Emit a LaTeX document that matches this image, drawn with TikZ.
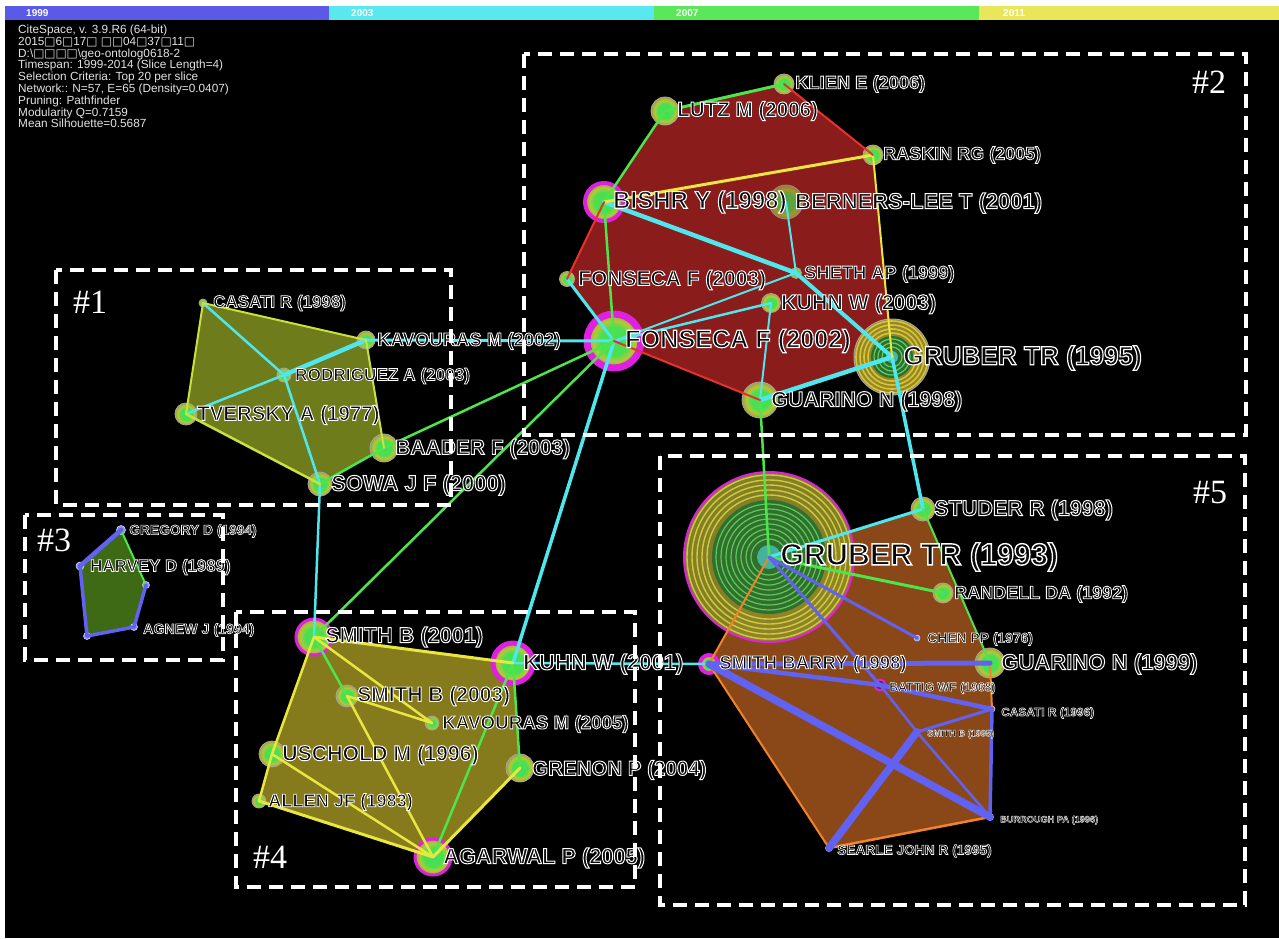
\documentclass[tikz,border=0pt]{standalone}
\usepackage{fontspec}
\setmainfont{Liberation Sans}
\newfontfamily\numserif{Liberation Serif}
\newfontfamily\djv{DejaVu Sans}
\definecolor{cy}{HTML}{4FE6EE}
\definecolor{gr}{HTML}{4CE64C}
\definecolor{ye}{HTML}{EAE640}
\definecolor{yg}{HTML}{C8E040}
\definecolor{rd}{HTML}{E8302C}
\definecolor{orr}{HTML}{F2822C}
\definecolor{bl}{HTML}{6262F2}
\definecolor{mg}{HTML}{E020E0}
\definecolor{fa}{HTML}{6E7C1C}
\definecolor{fb}{HTML}{8A1C1C}
\definecolor{fc}{HTML}{3E6A16}
\definecolor{fd}{HTML}{857A1C}
\definecolor{fe}{HTML}{8A4818}
\definecolor{lav}{HTML}{8C8CF4}
\definecolor{hdr}{HTML}{E2E2E2}
\definecolor{barb}{HTML}{5A5AE6}
\definecolor{barc}{HTML}{5AE8F0}
\definecolor{barg}{HTML}{5AE85A}
\definecolor{bary}{HTML}{EAE65A}
\definecolor{nc}{HTML}{38C8B0}
\definecolor{ng}{HTML}{48E050}
\definecolor{ny}{HTML}{B4C83A}
\definecolor{no}{HTML}{A0A040}
\definecolor{gol}{HTML}{8E8A2A}
\definecolor{gdk}{HTML}{2B6E2E}
\definecolor{grl}{HTML}{D8D040}
\definecolor{gln}{HTML}{60D060}
\definecolor{ink}{HTML}{0A0A0C}
\pgfdeclareradialshading{cnshade}{\pgfpoint{0bp}{0bp}}{color(0bp)=(nc); color(5bp)=(ng); color(13bp)=(ng); color(19bp)=(ny); color(25bp)=(no); color(50bp)=(no)}
\pgfdeclarelayer{bgl}
\pgfdeclarelayer{polyl}
\pgfdeclarelayer{labl}
\pgfdeclarelayer{boxl}
\pgfsetlayers{bgl,polyl,main,labl,boxl}
% label: one text object, dark fill with a thin white stroke (outlined text)
\newcommand\clabel[5]{%
 \begin{pgfonlayer}{labl}\node[lbl, text=ink] (l#1) at (#2,#3) {\fontsize{#4}{#4}\selectfont\pgfmathsetmacro\hw{#4*0.045}%
 \special{pdf:literal direct 1 G 2 Tr \hw\space w}#5\special{pdf:literal direct 0 Tr 0.4 w}};\end{pgfonlayer}}
\tikzset{
 cn/.style={circle, inner sep=0pt, minimum size=#1, shading=cnshade, draw=gray!70, line width=0.8pt},
 mgr/.style={draw=mg, line width=#1},
 sn/.style={circle, inner sep=0pt, minimum size=#1, fill=lav, draw=white!60!lav, line width=0.6pt},
 lbl/.style={anchor=west, inner sep=0pt, font=\bfseries},
 hline/.style={anchor=base west, inner sep=0pt, text=hdr, font=\fontsize{11.8}{11.8}\selectfont},
 barlab/.style={anchor=west, inner sep=0pt, text=white, font=\bfseries\fontsize{10}{10}\selectfont},
 ecy/.style={draw=cy, line width=#1},
 egr/.style={draw=gr, line width=#1},
 eye/.style={draw=ye, line width=#1},
 eyg/.style={draw=yg, line width=#1},
 erd/.style={draw=rd, line width=#1},
 eor/.style={draw=orr, line width=#1},
 ebl/.style={draw=bl, line width=#1},
 dbox/.style={draw=white, line width=3.2pt, dash pattern=on 14pt off 8pt},
 blab/.style={text=white, inner sep=0pt, font=\numserif\fontsize{34}{34}\selectfont},
}
\begin{document}
\begin{tikzpicture}[x=1pt,y=-1pt, line join=round, line cap=round]
\useasboundingbox (0,0) rectangle (1279,938);
\begin{pgfonlayer}{bgl}
\fill[white] (0,0) rectangle (1279,938);
\fill[black] (5,6) rectangle (1279,938);
\fill[barb] (5,6) rectangle (329,20);
\fill[barc] (329,6) rectangle (654,20);
\fill[barg] (654,6) rectangle (979,20);
\fill[bary] (979,6) rectangle (1279,20);
\end{pgfonlayer}
\node[barlab] (t1999) at (26,13) {1999};
\node[barlab] (t2003) at (351,13) {2003};
\node[barlab] (t2007) at (676,13) {2007};
\node[barlab] (t2011) at (1003,13) {2011};
% header
\node[hline] (h1) at (18,33.5) {CiteSpace, v. 3.9.R6 (64-bit)};
\node[hline] (h2) at (18,45.3) {2015{\djv □}6{\djv □}17{\djv □} {\djv □□}04{\djv □}37{\djv □}11{\djv □}};
\node[hline] (h3) at (18,57.1) {D:\textbackslash{\djv □□□□}\textbackslash geo-ontolog0618-2};
\node[hline] (h4) at (18,68.9) {Timespan: 1999-2014 (Slice Length=4)};
\node[hline] (h5) at (18,80.7) {Selection Criteria: Top 20 per slice};
\node[hline] (h6) at (18,92.5) {Network:: N=57, E=65 (Density=0.0407)};
\node[hline] (h7) at (18,104.3) {Pruning: Pathfinder};
\node[hline] (h8) at (18,116.1) {Modularity Q=0.7159};
\node[hline] (h9) at (18,127.9) {Mean Silhouette=0.5687};

% ---------- big circles ----------
\node[circle, inner sep=0pt, minimum size=170] (gruber93) at (769,557) {};
\begin{scope}[opacity=0.92]
\fill[gol] (gruber93.center) circle (85);
\foreach \r in {82,77,72,67,62} \draw[grl, line width=1.4] (gruber93.center) circle (\r);
\fill[gdk] (gruber93.center) circle (57);
\foreach \r in {53,48,43,38,33,28,23,18} \draw[gln, line width=1.2] (gruber93.center) circle (\r);
\fill[nc!80!gray] (gruber93.center) circle (12);
\end{scope}
\draw[mg, line width=2] (gruber93.center) circle (85);

\node[circle, inner sep=0pt, minimum size=76] (gruber95) at (892,357) {};
\fill[gol] (gruber95.center) circle (38);
\foreach \r in {36,32,28,24} \draw[grl!80!orange, line width=1.6] (gruber95.center) circle (\r);
\fill[gdk] (gruber95.center) circle (21);
\foreach \r in {18,14,10} \draw[gln, line width=1.2] (gruber95.center) circle (\r);
\fill[nc!80!gray] (gruber95.center) circle (6);
\draw[gray!70, line width=1] (gruber95.center) circle (38);

% ---------- nodes #2 ----------
\node[cn=20] (klien) at (784,84) {};
\node[cn=28] (lutz) at (665,111) {};
\node[cn=20] (raskin) at (873,155) {};
\node[cn=38, mgr=4] (bishr) at (604,202) {};
\node[cn=34, opacity=0.7] (berners) at (786,202) {};
\node[cn=15] (fons03) at (567,279) {};
\node[cn=11] (sheth) at (796,273) {};
\node[cn=19] (kuhn03) at (771,303) {};
\node[cn=54, mgr=7] (fons02) at (614,341) {};
\node[cn=36] (guar98) at (760,400) {};
% ---------- nodes #1 ----------
\node[cn=8] (casati98) at (203,303) {};
\node[cn=18] (kav02) at (366,340) {};
\node[cn=14] (rodr) at (284,375) {};
\node[cn=22] (tversky) at (186,414) {};
\node[cn=28] (baader) at (384,448) {};
\node[cn=24] (sowa) at (320,484) {};
% ---------- nodes #3 ----------
\node[sn=9] (gregory) at (121,530) {};
\node[sn=8] (harvey) at (80,566) {};
\node[sn=7] (c3r) at (146,585) {};
\node[sn=7] (agnew) at (134,627) {};
\node[sn=7] (c3bl) at (87,636) {};
% ---------- nodes #4 ----------
\node[cn=36, mgr=3] (smith01) at (314,637) {};
\node[cn=40, mgr=5] (kuhn01) at (513,663) {};
\node[cn=22] (smith03) at (347,696) {};
\node[cn=14] (kav05) at (432,723) {};
\node[cn=26] (uschold) at (272,754) {};
\node[cn=28] (grenon) at (520,768) {};
\node[cn=14] (allen) at (259,801) {};
\node[cn=36, mgr=3] (agarwal) at (433,857) {};
% ---------- nodes #5 ----------
\node[cn=24] (studer) at (923,509) {};
\node[cn=20] (randell) at (943,593) {};
\node[sn=6] (chen) at (917,638) {};
\node[cn=30] (guar99) at (990,663) {};
\node[cn=18, mgr=4] (smithbarry) at (709,664) {};
\node[circle, inner sep=0pt, minimum size=11, draw=mg, line width=2, fill=lav!40!black] (battig) at (880,685) {};
\node[sn=6] (casati96) at (992,709) {};
\node[sn=6] (smithb95) at (917,732) {};
\node[sn=7] (burrough) at (990,817) {};
\node[sn=7] (searle) at (829,848) {};

% ---------- cluster areas ----------
\begin{pgfonlayer}{polyl}
\fill[fb] (klien.center) -- (raskin.center) -- (gruber95.center) -- (guar98.center) -- (fons02.center) -- (fons03.center) -- (bishr.center) -- (lutz.center) -- cycle;
\fill[fa] (casati98.center) -- (kav02.center) -- (baader.center) -- (sowa.center) -- (tversky.center) -- cycle;
\fill[fc] (gregory.center) -- (c3r.center) -- (agnew.center) -- (c3bl.center) -- (harvey.center) -- cycle;
\fill[fd] (smith01.center) -- (kuhn01.center) -- (grenon.center) -- (agarwal.center) -- (allen.center) -- (uschold.center) -- cycle;
\fill[fe] (gruber93.center) -- (studer.center) -- (guar99.center) -- (casati96.center) -- (burrough.center) -- (searle.center) -- (smithbarry.center) -- cycle;
\end{pgfonlayer}

% ---------- links ----------
\draw[ecy=4.5] (bishr.center) -- (sheth.center);
\draw[ecy=4] (sheth.center) -- (gruber95.center);
\draw[ecy=2] (berners.center) -- (sheth.center);
\draw[ecy=2] (sheth.center) -- (fons02.center);
\draw[ecy=2.5] (kuhn03.center) -- (fons02.center);
\draw[ecy=2] (kuhn03.center) -- (guar98.center);
\draw[ecy=3] (fons03.center) -- (fons02.center);
\draw[ecy=4.5] (guar98.center) -- (gruber95.center);
\draw[ecy=3] (kav02.center) -- (fons02.center);
\draw[ecy=3.5] (fons02.center) -- (kuhn01.center);
\draw[ecy=3.5] (gruber95.center) -- (studer.center);
\draw[ecy=2.5] (casati98.center) -- (rodr.center);
\draw[ecy=4.5] (rodr.center) -- (kav02.center);
\draw[ecy=2.5] (rodr.center) -- (tversky.center);
\draw[ecy=2.5] (rodr.center) -- (sowa.center);
\draw[ecy=2.5] (sowa.center) -- (smith01.center);
\draw[ecy=2.5] (kuhn01.center) -- (smithbarry.center);
\draw[ecy=3] (gruber93.center) -- (studer.center);
\draw[egr=3] (klien.center) -- (lutz.center);
\draw[egr=2.5] (lutz.center) -- (bishr.center);
\draw[egr=2.5] (bishr.center) -- (fons02.center);
\draw[egr=2.5] (baader.center) -- (fons02.center);
\draw[egr=2.5] (smith01.center) -- (fons02.center);
\draw[egr=2.5] (baader.center) -- (sowa.center);
\draw[egr=2.5] (guar98.center) -- (gruber93.center);
\draw[egr=2] (studer.center) -- (guar99.center);
\draw[egr=3] (gruber93.center) -- (randell.center);
\draw[egr=2.5] (smith01.center) -- (smith03.center);
\draw[egr=2.5] (kuhn01.center) -- (agarwal.center);
\draw[egr=2.5] (grenon.center) -- (kuhn01.center);
\draw[egr=2] (c3r.center) -- (gregory.center);
\draw[eye=3] (bishr.center) -- (raskin.center);
\draw[eye=2] (raskin.center) -- (gruber95.center);
\draw[eyg=2] (casati98.center) -- (kav02.center);
\draw[eyg=2] (kav02.center) -- (baader.center);
\draw[eyg=2.5] (sowa.center) -- (tversky.center);
\draw[eyg=2] (tversky.center) -- (casati98.center);
\draw[eye=3] (smith01.center) -- (kuhn01.center);
\draw[eye=2.5] (smith01.center) -- (uschold.center);
\draw[eye=2.5] (uschold.center) -- (allen.center);
\draw[eye=3] (allen.center) -- (agarwal.center);
\draw[eye=3] (agarwal.center) -- (grenon.center);
\draw[eye=2.5] (smith01.center) -- (kav05.center);
\draw[eye=2.5] (smith03.center) -- (kav05.center);
\draw[eye=2.5] (smith03.center) -- (agarwal.center);
\draw[eye=2.5] (uschold.center) -- (agarwal.center);
\draw[erd=2] (raskin.center) -- (klien.center);
\draw[erd=2] (bishr.center) -- (fons03.center);
\draw[erd=2] (fons02.center) -- (guar98.center);
\draw[eor=2] (gruber93.center) -- (smithbarry.center);
\draw[eor=2] (smithbarry.center) -- (searle.center);
\draw[eor=2.5] (searle.center) -- (burrough.center);
\draw[eor=2] (guar99.center) -- (casati96.center);
\draw[ebl=3] (gruber93.center) -- (chen.center);
\draw[ebl=3] (gruber93.center) -- (battig.center);
\draw[ebl=5] (smithbarry.center) -- (guar99.center);
\draw[ebl=4.5] (smithbarry.center) -- (battig.center);
\draw[ebl=7.5] (smithbarry.center) -- (burrough.center);
\draw[ebl=4.5] (battig.center) -- (casati96.center);
\draw[ebl=2.5] (battig.center) -- (smithb95.center);
\draw[ebl=3] (smithb95.center) -- (casati96.center);
\draw[ebl=2.5] (smithb95.center) -- (burrough.center);
\draw[ebl=7.5] (smithb95.center) -- (searle.center);
\draw[ebl=3.5] (casati96.center) -- (burrough.center);
\draw[ebl=4.5] (gregory.center) -- (harvey.center);
\draw[ebl=3.5] (harvey.center) -- (c3bl.center);
\draw[ebl=3.5] (c3bl.center) -- (agnew.center);
\draw[ebl=3.5] (agnew.center) -- (c3r.center);

% ---------- labels ----------
\clabel{klien}{795}{84}{18.3}{KLIEN E (2006)}
\clabel{lutz}{677}{111}{20.6}{LUTZ M (2006)}
\clabel{raskin}{883}{155}{18}{RASKIN RG (2005)}
\clabel{bishr}{613}{202}{24}{BISHR Y (1998)}
\clabel{berners}{795}{203}{22}{BERNERS-LEE T (2001)}
\clabel{fons03}{578}{280}{21}{FONSECA F (2003)}
\clabel{sheth}{804}{274}{18.3}{SHETH AP (1999)}
\clabel{kuhn03}{781}{304}{21.3}{KUHN W (2003)}
\clabel{fons02}{625}{341}{25.2}{FONSECA F (2002)}
\clabel{gruber95}{903}{358}{26.2}{GRUBER TR (1995)}
\clabel{guar98}{771}{401}{21.5}{GUARINO N (1998)}
\clabel{casati98}{213}{303}{17}{CASATI R (1998)}
\clabel{kav02}{377}{341}{18.5}{KAVOURAS M (2002)}
\clabel{rodr}{295}{376}{17.2}{RODRIGUEZ A (2003)}
\clabel{tversky}{197}{415}{20.5}{TVERSKY A (1977)}
\clabel{baader}{395}{449}{21}{BAADER F (2003)}
\clabel{sowa}{331}{485}{22}{SOWA J F (2000)}
\clabel{gregory}{129}{531}{13.8}{GREGORY D (1994)}
\clabel{harvey}{90}{567}{16.9}{HARVEY D (1989)}
\clabel{agnew}{143}{630}{14.2}{AGNEW J (1994)}
\clabel{smith01}{325}{637}{21.7}{SMITH B (2001)}
\clabel{kuhn01}{523}{664}{22}{KUHN W (2001)}
\clabel{smith03}{357}{696}{21}{SMITH B (2003)}
\clabel{kav05}{442}{724}{18.8}{KAVOURAS M (2005)}
\clabel{uschold}{282}{755}{21.3}{USCHOLD M (1996)}
\clabel{grenon}{532}{770}{20.5}{GRENON P (2004)}
\clabel{allen}{268}{802}{18.2}{ALLEN JF (1983)}
\clabel{agarwal}{443}{858}{21.8}{AGARWAL P (2005)}
\clabel{gruber93}{780}{557}{30.5}{GRUBER TR (1993)}
\clabel{studer}{934}{510}{21.6}{STUDER R (1998)}
\clabel{randell}{954}{594}{18}{RANDELL DA (1992)}
\clabel{chen}{927}{639}{13.9}{CHEN PP (1976)}
\clabel{guar99}{1001}{664}{22.1}{GUARINO N (1999)}
\clabel{smithbarry}{719}{664}{18.6}{SMITH BARRY (1998)}
\clabel{battig}{889}{688}{12.3}{BATTIG WF (1968)}
\clabel{casati96}{1001}{713}{11.9}{CASATI R (1996)}
\clabel{smithb95}{927}{734}{9.2}{SMITH B (1995)}
\clabel{burrough}{1000}{820}{9.2}{BURROUGH PA (1996)}
\clabel{searle}{837}{851}{13.7}{SEARLE JOHN R (1995)}

% ---------- cluster frames ----------
\begin{pgfonlayer}{boxl}
\draw[dbox] (56,270) rectangle (451,505);
\draw[dbox] (524,54) rectangle (1246,435);
\draw[dbox] (25,515) rectangle (223,660);
\draw[dbox] (236,612) rectangle (635,887);
\draw[dbox] (660,456) rectangle (1245,905);
\node[blab] (k1) at (90,302) {\#1};
\node[blab] (k2) at (1209,82) {\#2};
\node[blab] (k3) at (54,540) {\#3};
\node[blab] (k4) at (270,857) {\#4};
\node[blab] (k5) at (1210,493) {\#5};
\end{pgfonlayer}
\end{tikzpicture}
\end{document}
